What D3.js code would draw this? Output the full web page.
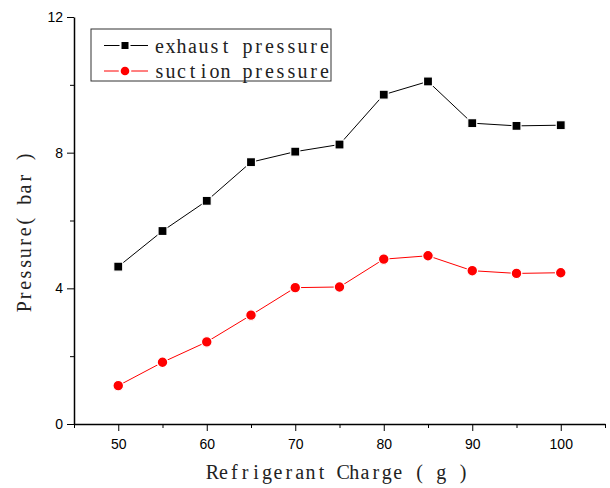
<!DOCTYPE html>
<html>
<head>
<meta charset="utf-8">
<script src="https://cdn.jsdelivr.net/npm/d3@7"></script>
<style>
  body { margin: 0; background: #fff; }
  .tick text { font-family: "Liberation Sans", Arial, sans-serif; font-size: 14px; fill: #000; }
  .mono { font-family: "Liberation Serif", "DejaVu Serif", serif; font-size: 20px; fill: #222; white-space: pre; }
</style>
</head>
<body>
<div id="chart"></div>
<script>
// data
const charge = [50, 55, 60, 65, 70, 75, 80, 85, 90, 95, 100];
const exhaust = [4.64, 5.69, 6.58, 7.72, 8.03, 8.24, 9.71, 10.10, 8.87, 8.79, 8.81];
const suction = [1.13, 1.82, 2.42, 3.21, 4.02, 4.04, 4.86, 4.96, 4.52, 4.44, 4.46];
const xMajor = [50, 60, 70, 80, 90, 100];
const xMinor = [45, 55, 65, 75, 85, 95, 105];
const yMajor = [0, 4, 8, 12];
const yMinor = [2, 6, 10];

const margin = {top: 17, right: 5, bottom: 64, left: 74},
    width = 610 - margin.left - margin.right,
    height = 488 - margin.top - margin.bottom;

const svg = d3.select("#chart")
  .append("svg")
    .attr("width", 610)
    .attr("height", 488)
  .append("g")
    .attr("transform", `translate(${margin.left},${margin.top})`);

const x = d3.scaleLinear().domain([45, 105]).range([0, width]);
const y = d3.scaleLinear().domain([0, 12]).range([height, 0]);

// fixed-pitch text: every character centred in its own cell
function monoText(g, str, cell) {
  return g.append("text")
    .attr("class", "mono")
    .attr("text-anchor", "middle")
    .attr("x", Array.from(str, (c, i) => (i + 0.5) * cell).join(" "))
    .text(str);
}

// minor ticks first
svg.append("g")
  .attr("transform", `translate(0,${height})`)
  .call(d3.axisBottom(x).tickValues(xMinor).tickSize(4).tickFormat(""))
  .call(g => g.select(".domain").remove());
svg.append("g")
  .call(d3.axisLeft(y).tickValues(yMinor).tickSize(4).tickFormat(""))
  .call(g => g.select(".domain").remove());

// major axes
svg.append("g")
  .attr("transform", `translate(0,${height})`)
  .call(d3.axisBottom(x).tickValues(xMajor).tickSize(7).tickSizeOuter(0).tickPadding(8))
  .call(g => g.select(".domain").attr("stroke-width", 1.5));
svg.append("g")
  .call(d3.axisLeft(y).tickValues(yMajor).tickSize(7).tickSizeOuter(0).tickPadding(4))
  .call(g => g.select(".domain").attr("stroke-width", 1.5));

// axis titles
monoText(svg.append("g").attr("transform", `translate(${207 - margin.left},${479 - margin.top})`),
  "Refrigerant Charge ( g )", 10.9);
monoText(svg.append("g").attr("transform", `translate(${31 - margin.left},${312 - margin.top}) rotate(-90)`),
  "Pressure( bar )", 10.7);

const line = d3.line().x((d, i) => x(charge[i])).y(d => y(d));

// exhaust
svg.append("path")
  .datum(exhaust)
  .attr("fill", "none")
  .attr("stroke", "black")
  .attr("stroke-width", 1)
  .attr("d", line);
svg.append("g")
  .selectAll("rect")
  .data(exhaust)
  .join("rect")
    .attr("x", (d, i) => x(charge[i]) - 4.5)
    .attr("y", d => y(d) - 4.5)
    .attr("width", 9)
    .attr("height", 9)
    .attr("fill", "black")
    .attr("stroke", "white")
    .attr("stroke-width", 1.2);

// suction
svg.append("path")
  .datum(suction)
  .attr("fill", "none")
  .attr("stroke", "red")
  .attr("stroke-width", 1)
  .attr("d", line);
svg.append("g")
  .selectAll("circle")
  .data(suction)
  .join("circle")
    .attr("cx", (d, i) => x(charge[i]))
    .attr("cy", d => y(d))
    .attr("r", 5.3)
    .attr("fill", "red")
    .attr("stroke", "white")
    .attr("stroke-width", 1.2);

// legend
const legend = svg.append("g")
  .attr("transform", `translate(${91 - margin.left},${29 - margin.top})`);
legend.append("rect")
  .attr("width", 240)
  .attr("height", 52)
  .attr("fill", "white")
  .attr("stroke", "#333")
  .attr("stroke-width", 1);

const items = [
  {name: "exhaust pressure", color: "black", shape: "square"},
  {name: "suction pressure", color: "red", shape: "circle"}
];
items.forEach((it, i) => {
  const ly = 16.5 + i * 25.5;
  legend.append("line")
    .attr("x1", 13).attr("x2", 57)
    .attr("y1", ly).attr("y2", ly)
    .attr("stroke", it.color);
  if (it.shape === "square") {
    legend.append("rect")
      .attr("x", 34 - 4.5).attr("y", ly - 4.5)
      .attr("width", 9).attr("height", 9)
      .attr("fill", it.color)
      .attr("stroke", "white").attr("stroke-width", 2);
  } else {
    legend.append("circle")
      .attr("cx", 34).attr("cy", ly).attr("r", 5.3)
      .attr("fill", it.color)
      .attr("stroke", "white").attr("stroke-width", 2);
  }
  monoText(legend.append("g").attr("transform", `translate(63,${ly + 7})`), it.name, 11);
});
</script>
</body>
</html>
